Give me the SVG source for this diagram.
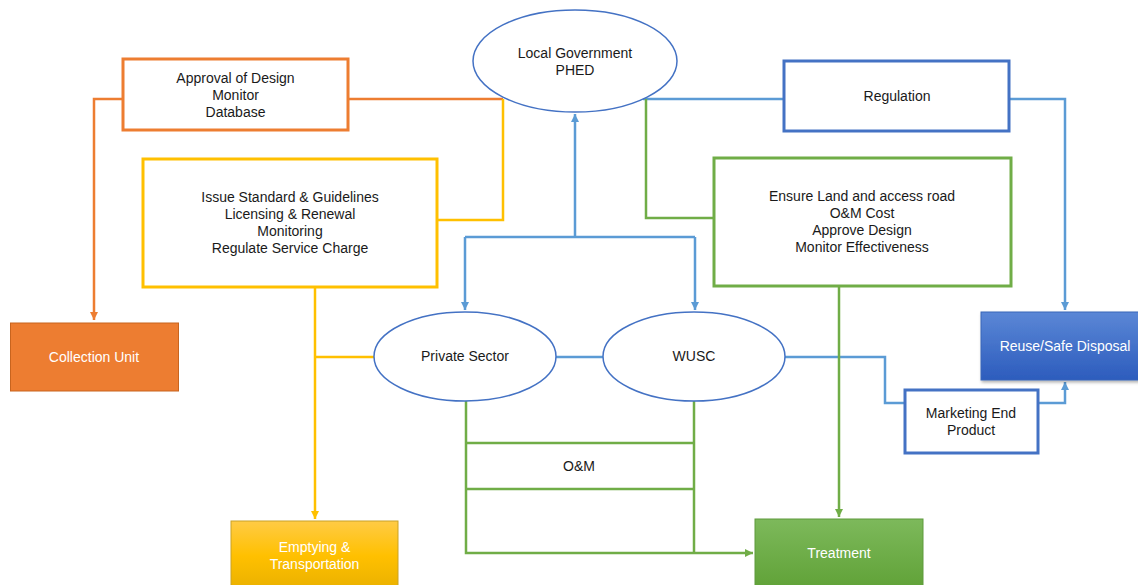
<svg xmlns="http://www.w3.org/2000/svg" width="1138" height="585" viewBox="0 0 1138 585">
<style>
text{font-family:"Liberation Sans",Arial,sans-serif;font-size:14px;fill:#1a1a1a;text-anchor:middle}
.w{fill:#fff}
.c{fill:none;stroke-width:2.5}
.o{stroke:#ED7D31}
.y{stroke:#FFC000}
.b{stroke:#5B9BD5}
.g{stroke:#70AD47}
.box{fill:#fff;stroke-width:3}
.ell{fill:#fff;stroke:#4472C4;stroke-width:1.5}
</style>
<defs>
<marker id="ao" markerUnits="userSpaceOnUse" markerWidth="10" markerHeight="10" refX="8" refY="5" orient="auto"><path d="M0,1 L8,5 L0,9 Z" fill="#ED7D31"/></marker>
<marker id="ay" markerUnits="userSpaceOnUse" markerWidth="10" markerHeight="10" refX="8" refY="5" orient="auto"><path d="M0,1 L8,5 L0,9 Z" fill="#FFC000"/></marker>
<marker id="ab" markerUnits="userSpaceOnUse" markerWidth="10" markerHeight="10" refX="8" refY="5" orient="auto"><path d="M0,1 L8,5 L0,9 Z" fill="#5B9BD5"/></marker>
<marker id="ag" markerUnits="userSpaceOnUse" markerWidth="10" markerHeight="10" refX="8" refY="5" orient="auto"><path d="M0,1 L8,5 L0,9 Z" fill="#70AD47"/></marker>
<linearGradient id="gy" x1="0" y1="0" x2="0" y2="1"><stop offset="0" stop-color="#FFCB45"/><stop offset="0.5" stop-color="#FFC000"/><stop offset="1" stop-color="#E9B000"/></linearGradient>
<linearGradient id="gg" x1="0" y1="0" x2="0" y2="1"><stop offset="0" stop-color="#7DB95B"/><stop offset="1" stop-color="#5FA136"/></linearGradient>
<linearGradient id="gb" x1="0" y1="0" x2="0" y2="1"><stop offset="0" stop-color="#5B87D6"/><stop offset="1" stop-color="#2C5CBD"/></linearGradient>
<filter id="sh" x="-10%" y="-10%" width="120%" height="130%"><feDropShadow dx="1" dy="2" stdDeviation="1.5" flood-color="#000" flood-opacity="0.3"/></filter>
</defs>

<g id="connectors">
<path class="c o" d="M123,99 H94 V320" marker-end="url(#ao)"/>
<path class="c o" d="M348,99 H503"/>
<path class="c y" d="M503,99 V220 H438"/>
<path class="c y" d="M315,287 V519" marker-end="url(#ay)"/>
<path class="c y" d="M315,357 H374"/>
<path class="c b" d="M575,237 V114" marker-end="url(#ab)"/>
<path class="c b" d="M465,237 H695"/>
<path class="c b" d="M465,237 V310" marker-end="url(#ab)"/>
<path class="c b" d="M695,237 V310" marker-end="url(#ab)"/>
<path class="c b" d="M643,99 H784"/>
<path class="c b" d="M1009,99 H1065 V310" marker-end="url(#ab)"/>
<path class="c b" d="M556,357 H603"/>
<path class="c b" d="M785,357 H885 V403 H905"/>
<path class="c b" d="M1038,403 H1065 V382" marker-end="url(#ab)"/>
<path class="c g" d="M646,99 V218 H714"/>
<path class="c g" d="M839,286 V517" marker-end="url(#ag)"/>
<path class="c g" d="M466,401 V553 H753" marker-end="url(#ag)"/>
<path class="c g" d="M694,401 V553"/>
<path class="c g" d="M466,443 H694"/>
<path class="c g" d="M466,489 H694"/>
</g>

<g id="approval">
<rect class="box" x="123" y="59" width="225" height="71" stroke="#ED7D31"/>
<text x="235.5" y="83">Approval of Design</text>
<text x="235.5" y="100">Monitor</text>
<text x="235.5" y="117">Database</text>
</g>

<g id="issue">
<rect class="box" x="143" y="159" width="294" height="128" stroke="#FFC000"/>
<text x="290" y="202">Issue Standard &amp; Guidelines</text>
<text x="290" y="219">Licensing &amp; Renewal</text>
<text x="290" y="236">Monitoring</text>
<text x="290" y="253">Regulate Service Charge</text>
</g>

<g id="localgov">
<ellipse class="ell" cx="575" cy="61" rx="102" ry="51"/>
<text x="575" y="58">Local Government</text>
<text x="575" y="75">PHED</text>
</g>

<g id="regulation">
<rect class="box" x="784" y="61" width="225" height="70" stroke="#4472C4"/>
<text x="897" y="101">Regulation</text>
</g>

<g id="ensure">
<rect class="box" x="714" y="158" width="297" height="128" stroke="#70AD47"/>
<text x="862" y="201">Ensure Land and access road</text>
<text x="862" y="218">O&amp;M Cost</text>
<text x="862" y="235">Approve Design</text>
<text x="862" y="252">Monitor Effectiveness</text>
</g>

<g id="collection">
<rect x="10.5" y="323" width="168" height="68" fill="#ED7D31" stroke="#C8641E" stroke-width="1"/>
<text class="w" x="94" y="362">Collection Unit</text>
</g>

<g id="private">
<ellipse class="ell" cx="465" cy="356.5" rx="91" ry="44.5"/>
<text x="465" y="361">Private Sector</text>
</g>

<g id="wusc">
<ellipse class="ell" cx="694" cy="356.5" rx="91" ry="44.5"/>
<text x="694" y="361">WUSC</text>
</g>

<g id="om">
<text x="579" y="471">O&amp;M</text>
</g>

<g id="reuse">
<rect x="981" y="312" width="160" height="68" fill="url(#gb)" stroke="#3A66B8" stroke-width="1" filter="url(#sh)"/>
<text class="w" x="1065" y="351">Reuse/Safe Disposal</text>
</g>

<g id="marketing">
<rect class="box" x="905" y="390" width="133" height="63" stroke="#4472C4"/>
<text x="971" y="418">Marketing End</text>
<text x="971" y="435">Product</text>
</g>

<g id="emptying">
<rect x="231" y="521" width="167" height="70" fill="url(#gy)" stroke="#C9A227" stroke-width="1"/>
<text class="w" x="314.5" y="552">Emptying  &amp;</text>
<text class="w" x="314.5" y="569">Transportation</text>
</g>

<g id="treatment">
<rect x="755" y="519" width="168" height="72" fill="url(#gg)" stroke="#5E9A3C" stroke-width="1"/>
<text class="w" x="839" y="558">Treatment</text>
</g>
</svg>
